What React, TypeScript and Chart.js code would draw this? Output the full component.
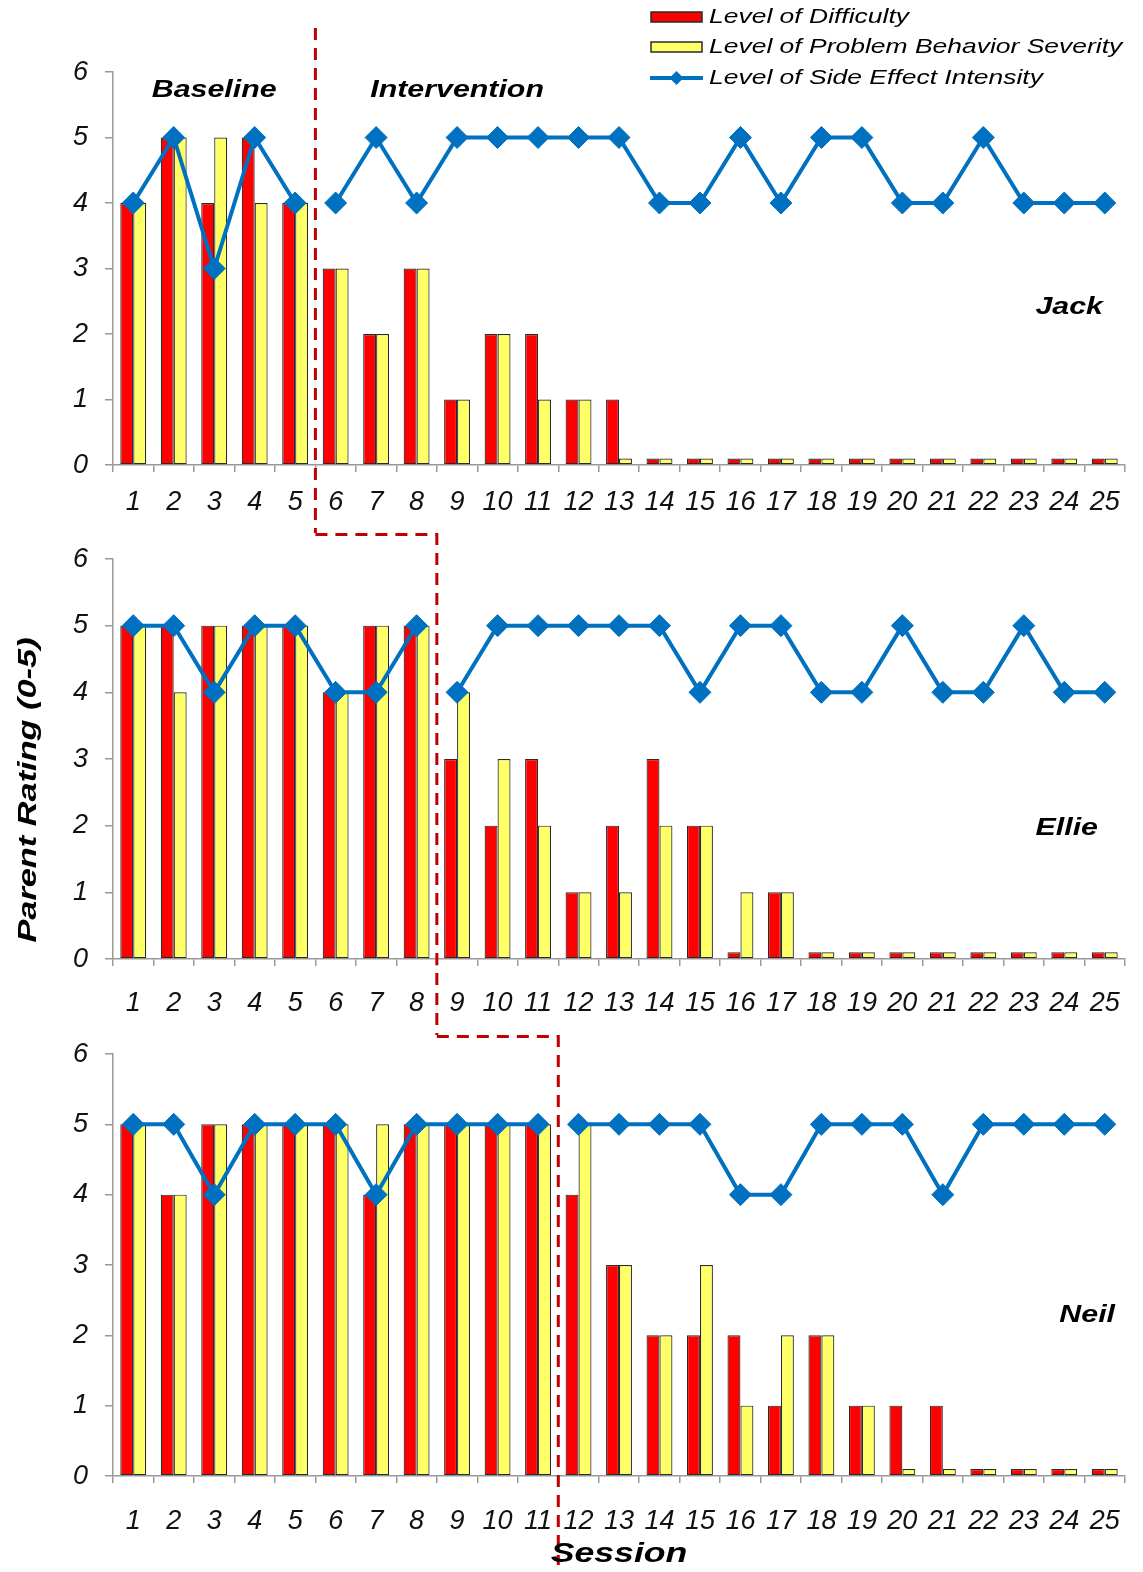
import React, { useEffect, useRef } from "react";
import { Chart, registerables } from "chart.js";

Chart.register(...registerables);

// ---------- DATA ----------
const sessionLabels = [
  "1", "2", "3", "4", "5", "6", "7", "8", "9", "10", "11", "12", "13",
  "14", "15", "16", "17", "18", "19", "20", "21", "22", "23", "24", "25",
];

const seriesNames = [
  "Level of Difficulty",
  "Level of Problem Behavior Severity",
  "Level of Side Effect Intensity",
];

// Jack
const jackDifficulty = [4, 5, 4, 5, 4, 3, 2, 3, 1, 2, 2, 1, 1, 0.1, 0.1, 0.1, 0.1, 0.1, 0.1, 0.1, 0.1, 0.1, 0.1, 0.1, 0.1];
const jackProblem = [4, 5, 5, 4, 4, 3, 2, 3, 1, 2, 1, 1, 0.1, 0.1, 0.1, 0.1, 0.1, 0.1, 0.1, 0.1, 0.1, 0.1, 0.1, 0.1, 0.1];
const jackSide = [4, 5, 3, 5, 4, 4, 5, 4, 5, 5, 5, 5, 5, 4, 4, 5, 4, 5, 5, 4, 4, 5, 4, 4, 4];
const jackBaselineSessions = 5;

// Ellie
const ellieDifficulty = [5, 5, 5, 5, 5, 4, 5, 5, 3, 2, 3, 1, 2, 3, 2, 0.1, 1, 0.1, 0.1, 0.1, 0.1, 0.1, 0.1, 0.1, 0.1];
const ellieProblem = [5, 4, 5, 5, 5, 4, 5, 5, 4, 3, 2, 1, 1, 2, 2, 1, 1, 0.1, 0.1, 0.1, 0.1, 0.1, 0.1, 0.1, 0.1];
const ellieSide = [5, 5, 4, 5, 5, 4, 4, 5, 4, 5, 5, 5, 5, 5, 4, 5, 5, 4, 4, 5, 4, 4, 5, 4, 4];
const ellieBaselineSessions = 8;

// Neil
const neilDifficulty = [5, 4, 5, 5, 5, 5, 4, 5, 5, 5, 5, 4, 3, 2, 2, 2, 1, 2, 1, 1, 1, 0.1, 0.1, 0.1, 0.1];
const neilProblem = [5, 4, 5, 5, 5, 5, 5, 5, 5, 5, 5, 5, 3, 2, 3, 1, 2, 2, 1, 0.1, 0.1, 0.1, 0.1, 0.1, 0.1];
const neilSide = [5, 5, 4, 5, 5, 5, 4, 5, 5, 5, 5, 5, 5, 5, 5, 4, 4, 5, 5, 5, 4, 5, 5, 5, 5];
const neilBaselineSessions = 11;

const yTickMin = 0;
const yTickMax = 6;
const yTickStep = 1;

// ---------- STYLE ----------
const FAMILY = "'Liberation Sans', Arial, Helvetica, sans-serif";
const RED = "#FF0000";
const YELLOW = "#FFFF66";
const BLUE = "#0070C0";
const BAR_BORDER = "#2a2a2a";
const AXIS = "#9a9a9a";
const PHASE = "#C00000";
const STRETCH = 1.32;
const LEGEND_STRETCH = 1.26;

type PanelSpec = {
  name: string;
  difficulty: number[];
  problem: number[];
  side: number[];
  baseline: number;
  prevBaseline: number | null;
  height: number;
  padTop: number;
  xAxisHeight: number;
  tickPad: number;
  nameValue: number;
  nameRightInset: number;
  legend: boolean;
  phaseLabels: boolean;
  yTitle: boolean;
  xTitle: boolean;
  phaseTop: number;
  phaseBottomInset: number;
};

const panels: PanelSpec[] = [
  {
    name: "Jack", difficulty: jackDifficulty, problem: jackProblem, side: jackSide,
    baseline: jackBaselineSessions, prevBaseline: null,
    height: 533, padTop: 72, xAxisHeight: 68, tickPad: 14,
    nameValue: 2.4, nameRightInset: 22,
    legend: true, phaseLabels: true, yTitle: false, xTitle: false,
    phaseTop: 28, phaseBottomInset: 0,
  },
  {
    name: "Ellie", difficulty: ellieDifficulty, problem: ellieProblem, side: ellieSide,
    baseline: ellieBaselineSessions, prevBaseline: jackBaselineSessions,
    height: 502, padTop: 26, xAxisHeight: 76, tickPad: 21,
    nameValue: 1.95, nameRightInset: 27,
    legend: false, phaseLabels: false, yTitle: true, xTitle: false,
    phaseTop: 0, phaseBottomInset: 0,
  },
  {
    name: "Neil", difficulty: neilDifficulty, problem: neilProblem, side: neilSide,
    baseline: neilBaselineSessions, prevBaseline: ellieBaselineSessions,
    height: 537, padTop: 19, xAxisHeight: 96, tickPad: 22,
    nameValue: 2.28, nameRightInset: 10,
    legend: false, phaseLabels: false, yTitle: false, xTitle: true,
    phaseTop: 0, phaseBottomInset: 7,
  },
];

function drawDiamond(ctx: CanvasRenderingContext2D, x: number, y: number, r: number) {
  ctx.beginPath();
  ctx.moveTo(x, y - r);
  ctx.lineTo(x + r, y);
  ctx.lineTo(x, y + r);
  ctx.lineTo(x - r, y);
  ctx.closePath();
  ctx.fill();
}

function stretchedText(
  ctx: CanvasRenderingContext2D, text: string, x: number, y: number,
  align: CanvasTextAlign, rotate = 0, sx = STRETCH
) {
  ctx.save();
  ctx.translate(x, y);
  if (rotate) ctx.rotate(rotate);
  ctx.scale(sx, 1);
  ctx.textAlign = align;
  ctx.textBaseline = "middle";
  ctx.fillText(text, 0, 0);
  ctx.restore();
}

function makeOverlay(spec: PanelSpec) {
  return {
    id: "overlay_" + spec.name,
    afterDraw(chart: any) {
      const ctx: CanvasRenderingContext2D = chart.ctx;
      const xs = chart.scales.x;
      const ys = chart.scales.y;
      const area = chart.chartArea;
      const boundary = (n: number) => (xs.getPixelForValue(n - 1) + xs.getPixelForValue(n)) / 2;

      ctx.save();
      // phase change dashed line
      ctx.strokeStyle = PHASE;
      ctx.lineWidth = 3;
      ctx.setLineDash([12, 8]);
      const px = boundary(spec.baseline);
      if (spec.prevBaseline !== null) {
        const ppx = boundary(spec.prevBaseline);
        ctx.beginPath();
        ctx.moveTo(ppx, 1.5);
        ctx.lineTo(px, 1.5);
        ctx.stroke();
      }
      ctx.beginPath();
      ctx.moveTo(px, spec.phaseTop);
      ctx.lineTo(px, chart.height - spec.phaseBottomInset);
      ctx.stroke();
      ctx.setLineDash([]);

      // participant name
      ctx.fillStyle = "#000";
      ctx.font = `italic bold 23px ${FAMILY}`;
      stretchedText(ctx, spec.name, area.right - spec.nameRightInset, ys.getPixelForValue(spec.nameValue), "right");

      if (spec.phaseLabels) {
        const by = ys.getPixelForValue(5.72);
        const bx = (xs.getPixelForValue(0) + xs.getPixelForValue(spec.baseline - 1)) / 2;
        stretchedText(ctx, "Baseline", bx, by, "center");
        stretchedText(ctx, "Intervention", xs.getPixelForValue(8), by, "center");
      }

      if (spec.yTitle) {
        ctx.font = `italic bold 26px ${FAMILY}`;
        stretchedText(ctx, "Parent Rating (0-5)", 29, 257, "center", -Math.PI / 2);
      }

      if (spec.xTitle) {
        ctx.font = `italic bold 27px ${FAMILY}`;
        stretchedText(ctx, "Session", (area.left + area.right) / 2, area.bottom + 79, "center");
      }

      if (spec.legend) {
        const lx = 651;
        const lw = 51;
        const tx = 709;
        const rows = [17, 47, 78];
        ctx.lineWidth = 1.5;
        ctx.strokeStyle = BAR_BORDER;
        ctx.fillStyle = RED;
        ctx.fillRect(lx, rows[0] - 5, lw, 10);
        ctx.strokeRect(lx, rows[0] - 5, lw, 10);
        ctx.fillStyle = YELLOW;
        ctx.fillRect(lx, rows[1] - 5, lw, 10);
        ctx.strokeRect(lx, rows[1] - 5, lw, 10);
        ctx.strokeStyle = BLUE;
        ctx.lineWidth = 4;
        ctx.beginPath();
        ctx.moveTo(lx - 1, rows[2]);
        ctx.lineTo(lx + lw + 1, rows[2]);
        ctx.stroke();
        ctx.fillStyle = BLUE;
        drawDiamond(ctx, lx + lw / 2, rows[2], 7);

        ctx.fillStyle = "#000";
        ctx.font = `italic 21px ${FAMILY}`;
        seriesNames.forEach((n, i) => stretchedText(ctx, n, tx, rows[i], "left", 0, LEGEND_STRETCH));
      }
      ctx.restore();
    },
  };
}

function Panel({ spec }: { spec: PanelSpec }) {
  const ref = useRef<HTMLCanvasElement | null>(null);
  useEffect(() => {
    if (!ref.current) return;
    const baseLine = spec.side.map((v, i) => (i < spec.baseline ? v : null));
    const interLine = spec.side.map((v, i) => (i >= spec.baseline ? v : null));
    const lineStyle = {
      type: "line" as const,
      borderColor: BLUE,
      backgroundColor: BLUE,
      borderWidth: 4,
      pointStyle: "rectRot" as const,
      pointRadius: 11,
      pointBorderWidth: 1,
      pointBackgroundColor: BLUE,
      pointBorderColor: BLUE,
      spanGaps: false,
      tension: 0,
      order: 0,
    };
    const barStyle = {
      type: "bar" as const,
      borderColor: BAR_BORDER,
      borderWidth: 1.2,
      borderSkipped: false as const,
      categoryPercentage: 0.64,
      barPercentage: 1.0,
      order: 1,
    };
    const chart = new Chart(ref.current, {
      type: "bar",
      data: {
        labels: sessionLabels,
        datasets: [
          { ...barStyle, label: seriesNames[0], data: spec.difficulty, backgroundColor: RED },
          { ...barStyle, label: seriesNames[1], data: spec.problem, backgroundColor: YELLOW },
          { ...lineStyle, label: seriesNames[2], data: baseLine },
          { ...lineStyle, label: seriesNames[2] + " ", data: interLine },
        ] as any,
      },
      options: {
        animation: false,
        responsive: false,
        maintainAspectRatio: false,
        devicePixelRatio: 1,
        layout: { padding: { top: spec.padTop, right: 18, left: 0, bottom: 0 } },
        plugins: {
          legend: { display: false },
          tooltip: { enabled: false },
          title: { display: false },
        },
        scales: {
          x: {
            type: "category",
            offset: true,
            grid: {
              display: true,
              drawOnChartArea: false,
              drawTicks: true,
              tickLength: 7,
              color: AXIS,
              lineWidth: 1.5,
              offset: true,
            },
            border: { display: true, color: AXIS, width: 1.5 },
            ticks: {
              autoSkip: false,
              maxRotation: 0,
              minRotation: 0,
              padding: spec.tickPad,
              color: "#111",
              font: { family: FAMILY, size: 27, style: "italic" },
            },
            afterFit: (s: any) => {
              s.height = spec.xAxisHeight;
              s.paddingLeft = 0;
              s.paddingRight = 0;
            },
          },
          y: {
            min: yTickMin,
            max: yTickMax,
            ticks: {
              stepSize: yTickStep,
              padding: 17,
              color: "#111",
              font: { family: FAMILY, size: 27, style: "italic" },
            },
            grid: {
              display: true,
              drawOnChartArea: false,
              drawTicks: true,
              tickLength: 8,
              color: AXIS,
              lineWidth: 1.5,
            },
            border: { display: true, color: AXIS, width: 1.5 },
            afterFit: (s: any) => {
              s.width = 113;
              s.paddingTop = 0;
              s.paddingBottom = 0;
            },
          },
        },
      } as any,
      plugins: [makeOverlay(spec)],
    });
    return () => chart.destroy();
  }, [spec]);
  return <canvas ref={ref} width={1143} height={spec.height} style={{ display: "block", width: 1143, height: spec.height }} />;
}

export default function App() {
  return (
    <div style={{ position: "absolute", left: 0, top: 0, width: 1143, height: 1572, background: "#fff", overflow: "hidden" }}>
      {panels.map((p) => (
        <Panel key={p.name} spec={p} />
      ))}
    </div>
  );
}
